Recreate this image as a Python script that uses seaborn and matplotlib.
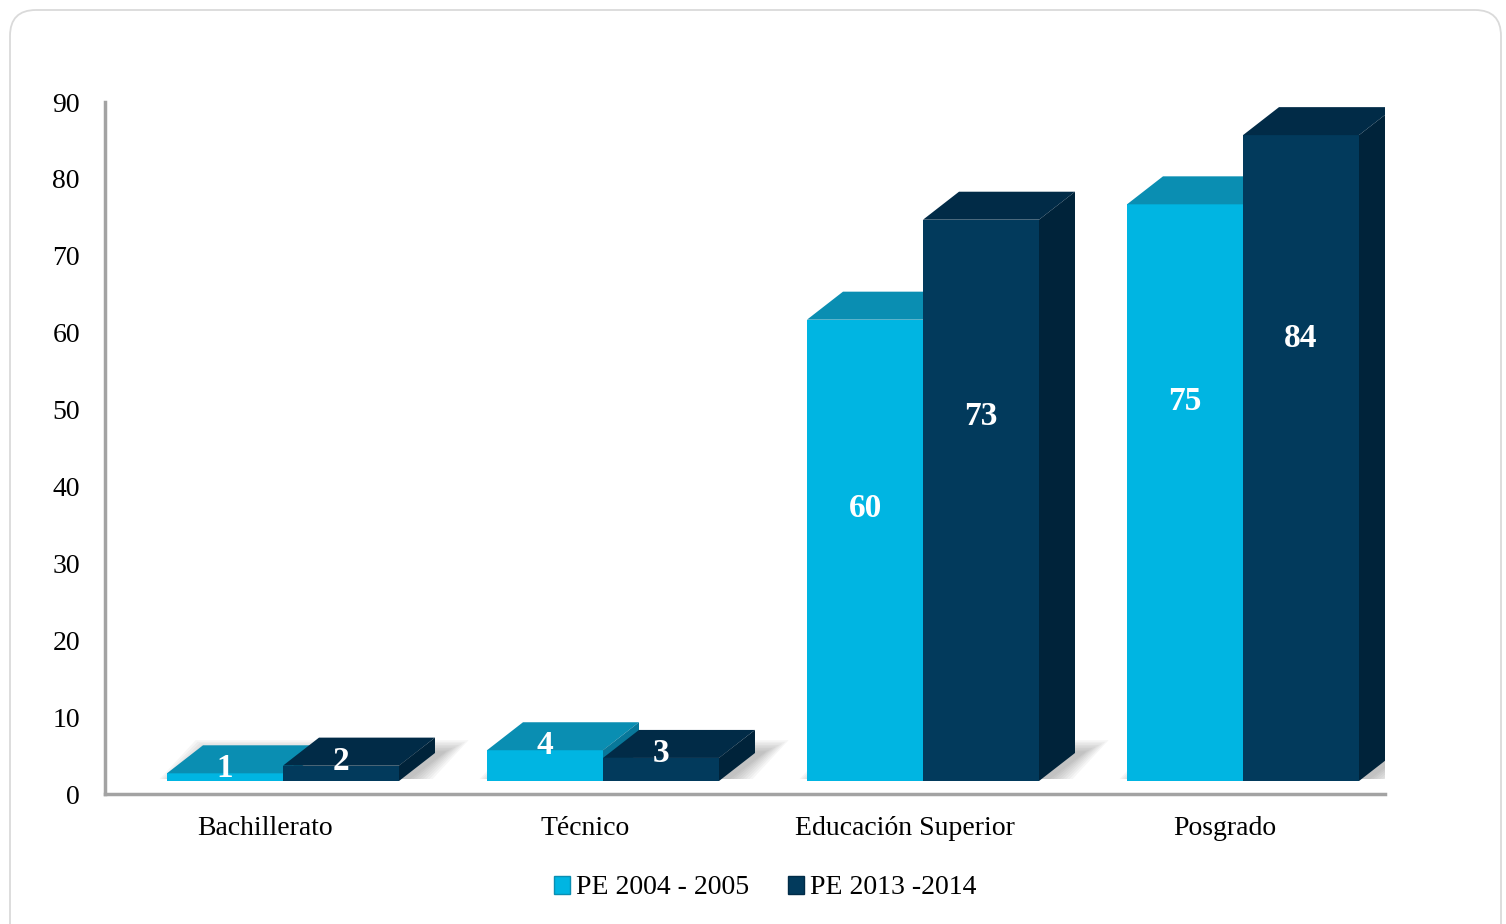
# ------------------ Import Libraries ------------------
import pandas as pd
import numpy as np
import matplotlib
matplotlib.use("Agg")
import matplotlib.pyplot as plt
import matplotlib.transforms as mtransforms
from matplotlib.patches import Polygon, Patch, FancyBboxPatch
import seaborn as sns

# ------------------ Data ------------------
categorias = ['Bachillerato', 'Técnico', 'Educación Superior', 'Posgrado']
series = ['PE 2004 - 2005', 'PE 2013 -2014']
valores_2004 = [1, 4, 60, 75]
valores_2013 = [2, 3, 73, 84]
y_ticks = [0, 10, 20, 30, 40, 50, 60, 70, 80, 90]

# ------------------ Style ------------------
sns.set_style("white")
plt.rcParams['font.family'] = ['Liberation Serif', 'DejaVu Serif']
plt.rcParams['text.color'] = 'black'
plt.rcParams['xtick.color'] = 'black'
plt.rcParams['ytick.color'] = 'black'

c_front = ['#00B5E2', '#023A5C']
c_top = ['#0A8EB2', '#012B47']
c_side = ['#08789A', '#00233A']

df = pd.DataFrame({
    'Nivel': categorias * 2,
    'Periodo': [series[0]] * 4 + [series[1]] * 4,
    'Valor': valores_2004 + valores_2013,
})

# ------------------ Figure ------------------
W, H, DPI = 1506, 924, 100
fig = plt.figure(figsize=(W / DPI, H / DPI), dpi=DPI)
fig.patch.set_facecolor('white')
ident = mtransforms.IdentityTransform()
# outer rounded frame (pixel coords, bottom edge runs off the image)
fig.patches.append(FancyBboxPatch((10, -30), 1491, H - 10 + 30,
                                  boxstyle="round,pad=0,rounding_size=26",
                                  transform=ident, facecolor='none',
                                  edgecolor='#dadada', lw=1.3, zorder=-1))

ax = fig.add_axes([105 / W, 130 / H, 1280 / W, 692 / H])
ax.patch.set_alpha(0)
sns.barplot(data=df, x='Nivel', y='Valor', hue='Periodo', palette=c_front,
            width=0.725, saturation=1, ax=ax, legend=False, errorbar=None)
ax.set_xlim(-0.5, 3.5)
ax.set_ylim(0, 90)
ax.set_yticks(y_ticks)
ax.set_xlabel('')
ax.set_ylabel('')

# front faces sit a bit forward of the axis frame (3D look)
shift_x, shift_y = 18, 13       # px
depth_x, depth_y = 36, 28       # px
front = ax.transData + mtransforms.ScaledTranslation(shift_x / DPI, shift_y / DPI, fig.dpi_scale_trans)

n = len(categorias)
bars = ax.patches[:2 * n]
for k, p in enumerate(bars):
    s = k // n
    z = 2 + s * 0.5
    p.set_transform(front)
    p.set_zorder(z)
    p.set_edgecolor('none')
    x0, w, h = p.get_x(), p.get_width(), p.get_height()
    (ax0, ay0), (ax1, ay1) = front.transform([(x0, 0), (x0 + w, h)])
    top = Polygon([(ax0, ay1), (ax1, ay1), (ax1 + depth_x, ay1 + depth_y), (ax0 + depth_x, ay1 + depth_y)],
                  closed=True, transform=ident, facecolor=c_top[s], edgecolor='none', zorder=z + 0.1)
    side = Polygon([(ax1, ay0), (ax1, ay1), (ax1 + depth_x, ay1 + depth_y), (ax1 + depth_x, ay0 + depth_y)],
                   closed=True, transform=ident, facecolor=c_side[s], edgecolor='none', zorder=z + 0.1)
    ax.add_artist(top)
    ax.add_artist(side)

    # soft floor shadow under each group, blurred by stacking
    if s == 1:
        gx0 = front.transform([(bars[k - n].get_x(), 0)])[0][0]
        for j in range(1, 9):
            e = 3.2 * j
            sh = Polygon([(gx0 + 8 - e * 0.6, ay0 + 2), (ax1 + 8 + e, ay0 + 2),
                          (ax1 + depth_x + 8 + e, ay0 + depth_y + e * 0.5),
                          (gx0 + depth_x + 8 - e * 0.6, ay0 + depth_y + e * 0.5)],
                         closed=True, transform=ident, facecolor='#666666', alpha=0.06,
                         edgecolor='none', zorder=1.5)
            ax.add_artist(sh)

    # value labels
    v = h
    ly = 0.92 * v - 19.7 if v > 10 else v + 0.6
    ax.text(x0 + w / 2, ly, f'{v:.0f}', transform=front, ha='center', va='center',
            color='white', fontsize=24, fontweight='bold', zorder=5)

# ------------------ Axes styling ------------------
for sp in ['top', 'right']:
    ax.spines[sp].set_visible(False)
for sp in ['left', 'bottom']:
    ax.spines[sp].set_color('#a3a3a3')
    ax.spines[sp].set_linewidth(2.5)
ax.tick_params(axis='y', length=0, pad=18, labelsize=20, labelcolor='black')
ax.tick_params(axis='x', length=0, pad=15.5, labelsize=20, labelcolor='black')
ax.grid(False)

handles = [Patch(facecolor=c_front[0], edgecolor=c_top[0]),
           Patch(facecolor=c_front[1], edgecolor=c_top[1])]
fig.legend(handles, series, loc='center', bbox_to_anchor=(765 / W, 1 - 888 / H), ncol=2,
           frameon=False, handlelength=0.6, handleheight=0.6, handletextpad=0.2,
           columnspacing=1.4, fontsize=20, labelcolor='black')

plt.savefig('out.png', dpi=DPI)
